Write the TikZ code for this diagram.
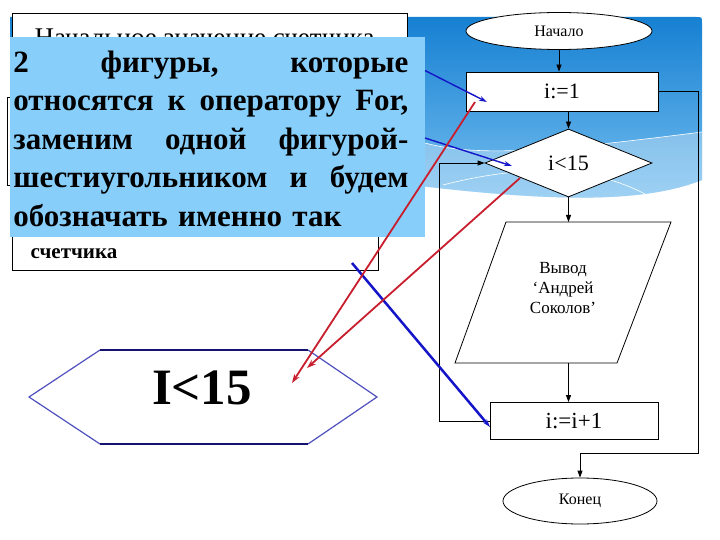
\documentclass[tikz,border=0pt]{standalone}
\usepackage{fontspec}
\setmainfont{Liberation Serif}
\usetikzlibrary{shapes.geometric,arrows.meta,positioning,calc}
\definecolor{skybar}{RGB}{22,128,210}
\definecolor{skylow}{RGB}{120,192,240}
\definecolor{notebox}{RGB}{135,206,250}
\definecolor{ptrblue}{RGB}{20,20,200}
\definecolor{ptrred}{RGB}{200,30,45}
\definecolor{hexblue}{RGB}{80,80,190}
\definecolor{hexnavy}{RGB}{20,20,110}
\newcommand{\fsz}[2]{\fontsize{#1bp}{#2bp}\selectfont}
\newcommand{\jline}[1]{\makebox[395bp]{#1}}
\begin{document}
\begin{tikzpicture}[x=1bp, y=-1bp, line width=0.8bp,
  blk/.style={draw, fill=white, inner sep=0pt, font=\fsz{22}{26}},
  term/.style={blk, ellipse, font=\fsz{16}{19}},
  flow/.style={-{Triangle[length=7bp,width=5bp]}},
  ptr/.style={ptrblue, line width=1.4bp, -{Stealth[length=8bp,width=5bp]}},
  redptr/.style={ptrred, line width=1.8bp, -{Stealth[length=9bp,width=6bp]}}]
  \useasboundingbox (0,0) rectangle (720,540);
  \fill[white] (0,0) rectangle (720,540);
  % slide background
  \shade[top color=skybar, bottom color=skylow] (10,17) -- (696,17) .. controls (702,17) .. (702,23)
    -- (702,180) .. controls (640,205) and (540,200) .. (420,186) -- (10,175) -- cycle;
  \fill[white, opacity=0.3] (425,143) .. controls (480,158) and (560,150) .. (702,132)
    -- (702,180) .. controls (640,205) and (540,200) .. (420,186) -- cycle;
  \draw[white, line width=0.6bp] (425,143) .. controls (480,158) and (560,150) .. (702,132);
  \draw[white, line width=0.6bp] (443,185) .. controls (520,165) and (590,165) .. (645,194);
  % old boxes behind the note
  \draw[fill=white] (12,13) rectangle (407,90);
  \node[anchor=base west, font=\fsz{27}{32}] (oldtxt) at (31,47) {Начальное значение счетчика};
  \draw[fill=white] (7,97) rectangle (300,185);
  \draw[fill=white] (12,200) rectangle (378,270);
  \node[anchor=base west, font=\bfseries\fsz{21}{25}] (cnt) at (27,259) {счетчика};
  % note
  \fill[notebox] (10,37) rectangle (425,237);
  \node[anchor=north west, inner sep=0pt, text width=395bp, align=left, font=\bfseries\fsz{31}{38.5}] (note) at (13,50.5)
    {\jline{2\hfill фигуры,\hfill которые}\\ \jline{относятся\hfill к\hfill оператору\hfill For,}\\
     \jline{заменим\hfill одной\hfill фигурой-}\\ \jline{шестиугольником\hfill и\hfill будем}\\ обозначать именно так};
  % flowchart
  \node[term, minimum width=186bp, minimum height=37bp] (start) at (559,31) {Начало};
  \node[blk, minimum width=192bp, minimum height=39bp] (init) at (562,91.5) {i:=1};
  \node[blk, diamond, minimum width=167bp, minimum height=68bp] (cond) at (568.5,163) {i<15};
  \coordinate (out) at (563,292.5);
  \draw[fill=white] ($(out)+(-57,-70.5)$) -- ($(out)+(108,-70.5)$) -- ($(out)+(54,70.5)$) -- ($(out)+(-108,70.5)$) -- cycle;
  \node[align=center, inner sep=0pt, font=\fsz{17}{20}] (outtxt) at ($(out)+(0,-4)$) {Вывод\\‘Андрей\\Соколов’};
  \coordinate (outtop) at ($(out)+(0,-70.5)$);
  \coordinate (outbot) at ($(out)+(0,70.5)$);
  \node[blk, minimum width=168bp, minimum height=37bp, font=\fsz{23}{27}] (incr) at (574,421) {i:=i+1};
  \node[term, minimum width=154bp, minimum height=46bp] (stop) at (580,501) {Конец};
  \coordinate (rbend) at (698,453);
  \draw[flow] (start.south) -- (start.south |- init.north);
  \draw[flow] (init.south -| cond.north) -- (cond.north);
  \draw[flow] (cond.south) -- (cond.south |- outtop);
  \draw[flow] (cond.south |- outbot) -- (cond.south |- incr.north);
  \draw[flow] (incr.west) -- ++(-50,0) |- (cond.west);
  \draw[flow] (init.east) -| (rbend) -| (stop.north);
  % hexagon
  \node[font=\bfseries\fsz{51}{60}] (hex) at (202,388) {I<15};
  \draw[hexblue, line width=1.2bp] (100,350) -- (29,397) -- (100,444) (308,350) -- (377,397) -- (308,444);
  \draw[hexnavy, line width=1.5bp] (100,350) -- (308,350) (100,444) -- (308,444);
  % pointers
  \coordinate (b1s) at (425,70.5); \coordinate (b1e) at (487,102);
  \coordinate (b2s) at (425,138);  \coordinate (b2e) at (512,166);
  \coordinate (b3s) at (352,263);  \coordinate (b3e) at (490,427);
  \coordinate (r1s) at (475,102);  \coordinate (r1e) at (292,383);
  \coordinate (r2s) at (520,178);  \coordinate (r2e) at (307,368);
  \draw[ptr] (b1s) -- (b1e);
  \draw[ptr] (b2s) -- (b2e);
  \draw[ptr, line width=2.5bp] (b3s) -- (b3e);
  \draw[redptr] (r1s) -- (r1e);
  \draw[redptr] (r2s) -- (r2e);
\end{tikzpicture}
\end{document}
